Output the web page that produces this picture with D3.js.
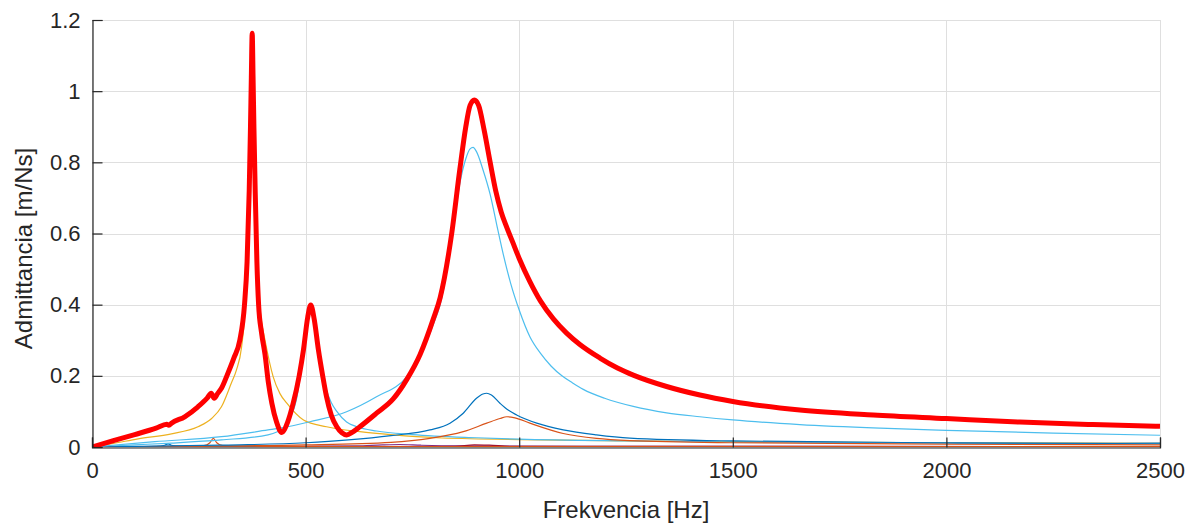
<!DOCTYPE html>
<html>
<head>
<meta charset="utf-8">
<script src="https://cdnjs.cloudflare.com/ajax/libs/d3/7.8.5/d3.min.js"></script>
<style>
  body { margin: 0; background: #fff; }
  svg { display: block; }
  text { font-family: "Liberation Sans", Arial, sans-serif; fill: #262626; }
</style>
</head>
<body>
<svg id="chart" width="1192" height="525"></svg>
<script>
// Axis ticks
const xTicks = [0, 500, 1000, 1500, 2000, 2500];
const yTicks = [0, 0.2, 0.4, 0.6, 0.8, 1, 1.2];
const xTickLabels = ["0", "500", "1000", "1500", "2000", "2500"];
const yTickLabels = ["0", "0.2", "0.4", "0.6", "0.8", "1", "1.2"];

// Total admittance [Hz, m/Ns]
const total = [[0,0],[50,0.018],[100,0.035],[150,0.053],[175,0.064],[180,0.061],[186,0.067],[217,0.085],[248,0.113],[270,0.138],[279,0.151],[286,0.137],[294,0.150],[303,0.165],[318,0.207],[332,0.25],[346,0.30],[357,0.40],[363,0.52],[368,0.72],[371,0.90],[373,1.04],[375,1.163],[377,1.04],[379,0.90],[382,0.72],[386,0.52],[390,0.40],[397,0.32],[405,0.26],[413,0.18],[421,0.123],[432,0.07],[444,0.041],[458,0.07],[471,0.123],[485,0.20],[495,0.273],[505,0.365],[512,0.399],[520,0.36],[530,0.273],[540,0.20],[549,0.141],[560,0.09],[573,0.057],[585,0.040],[596,0.034],[610,0.042],[627,0.057],[666,0.095],[705,0.135],[737,0.19],[768,0.26],[799,0.36],[815,0.42],[842,0.60],[861,0.78],[875,0.90],[885,0.96],[895,0.975],[905,0.96],[918,0.89],[932,0.80],[945,0.72],[958,0.66],[970,0.62],[985,0.575],[1000,0.53],[1025,0.465],[1050,0.41],[1080,0.36],[1111,0.32],[1142,0.288],[1189,0.25],[1230,0.222],[1267,0.202],[1345,0.17],[1423,0.146],[1500,0.128],[1657,0.104],[1829,0.090],[2000,0.080],[2172,0.070],[2343,0.063],[2500,0.058]];

// Modal contributions
const mode178 = [[0,0],[150,0.002],[170,0.005],[178,0.009],[186,0.005],[206,0.002],[400,0.001],[2500,0.0005]];
const mode284 = [[0,0],[200,0.002],[262,0.004],[276,0.012],[284,0.024],[292,0.012],[306,0.004],[400,0.002],[800,0.001],[2500,0.001]];
const mode375 = [[0,0],[50,0.01],[108,0.023],[186,0.037],[248,0.057],[280,0.08],[303,0.113],[326,0.179],[338,0.216],[350,0.28],[360,0.42],[366,0.62],[370,0.86],[373,1.03],[375,1.12],[377,1.03],[380,0.86],[384,0.62],[389,0.45],[396,0.36],[405,0.30],[424,0.198],[440,0.15],[456,0.123],[495,0.076],[549,0.057],[627,0.043],[705,0.034],[807,0.026],[1000,0.021],[1250,0.017],[1500,0.015],[2000,0.012],[2500,0.010]];
const mode700 = [[0,0],[300,0.001],[500,0.002],[620,0.003],[680,0.006],[720,0.007],[770,0.005],[850,0.003],[1200,0.002],[2500,0.001]];
const mode513 = [[0,0],[100,0.006],[186,0.011],[303,0.02],[412,0.034],[450,0.055],[465,0.085],[478,0.13],[490,0.22],[498,0.29],[505,0.35],[512,0.39],[520,0.355],[530,0.27],[540,0.205],[549,0.16],[560,0.125],[573,0.10],[596,0.07],[620,0.057],[666,0.045],[750,0.035],[900,0.026],[1000,0.022],[1250,0.017],[1500,0.014],[2000,0.011],[2500,0.009]];
const mode890 = [[0,0],[147,0.015],[303,0.029],[412,0.048],[440,0.053],[510,0.071],[596,0.099],[666,0.141],[737,0.198],[768,0.255],[799,0.345],[815,0.40],[842,0.58],[861,0.74],[875,0.81],[885,0.838],[892,0.842],[900,0.83],[915,0.78],[932,0.71],[950,0.61],[963,0.54],[980,0.46],[1000,0.385],[1025,0.31],[1050,0.263],[1075,0.227],[1100,0.20],[1125,0.18],[1150,0.162],[1200,0.137],[1267,0.114],[1345,0.096],[1423,0.085],[1500,0.076],[1657,0.063],[1845,0.053],[2000,0.047],[2250,0.039],[2500,0.033]];
const mode905 = [[0,0],[600,0.001],[850,0.002],[895,0.006],[930,0.005],[980,0.002],[2500,0.001]];
const mode920 = [[0,0],[300,0.005],[500,0.012],[600,0.02],[700,0.032],[791,0.048],[838,0.067],[869,0.095],[900,0.137],[915,0.149],[924,0.151],[935,0.146],[955,0.123],[975,0.103],[994,0.09],[1041,0.067],[1103,0.048],[1181,0.034],[1259,0.025],[1500,0.017],[2000,0.012],[2400,0.010],[2500,0.011]];
const mode975 = [[0,0],[500,0.006],[700,0.013],[791,0.024],[869,0.043],[924,0.067],[955,0.08],[971,0.085],[990,0.082],[1025,0.067],[1103,0.038],[1181,0.024],[1259,0.018],[1500,0.012],[2000,0.008],[2500,0.006]];

const svg = d3.select("#chart");
const W = 1192, H = 525;
const plotL = 92, plotR = 1160, plotT = 20, plotB = 447;

const x = d3.scaleLinear().domain([0, 2500]).range([plotL, plotR]);
const y = d3.scaleLinear().domain([0, 1.2]).range([plotB, plotT]);

svg.append("rect").attr("width", W).attr("height", H).attr("fill", "#fff");

// grid
const grid = svg.append("g").attr("stroke", "#dfdfdf").attr("stroke-width", 1);
xTicks.forEach(t => grid.append("line")
  .attr("x1", Math.round(x(t)) + 0.5).attr("x2", Math.round(x(t)) + 0.5)
  .attr("y1", plotT).attr("y2", plotB));
yTicks.forEach(t => grid.append("line")
  .attr("x1", plotL).attr("x2", plotR)
  .attr("y1", Math.round(y(t)) + 0.5).attr("y2", Math.round(y(t)) + 0.5));

svg.append("clipPath").attr("id", "plotArea")
  .append("rect").attr("x", plotL).attr("y", plotT - 5).attr("width", plotR - plotL).attr("height", plotB - plotT + 5);

const line = d3.line()
  .x(d => x(d[0]))
  .y(d => y(d[1]))
  .curve(d3.curveMonotoneX);

const modes = [
  { data: mode700, color: "#7E2F8E" },
  { data: mode905, color: "#A2142F" },
  { data: mode178, color: "#0072BD" },
  { data: mode284, color: "#D95319" },
  { data: mode375, color: "#EDB120" },
  { data: mode513, color: "#4DBEEE" },
  { data: mode975, color: "#D95319" },
  { data: mode920, color: "#0072BD" },
  { data: mode890, color: "#4DBEEE" }
];

const plot = svg.append("g").attr("clip-path", "url(#plotArea)");
modes.forEach(m => plot.append("path")
  .datum(m.data)
  .attr("fill", "none")
  .attr("stroke", m.color)
  .attr("stroke-width", 1.2)
  .attr("d", line));

plot.append("path")
  .datum(total)
  .attr("fill", "none")
  .attr("stroke", "#FF0000")
  .attr("stroke-width", 5)
  .attr("stroke-linejoin", "round")
  .attr("d", line);

// axes (left and bottom, ticks pointing inward)
const axisColor = "#262626";
const xAxis = d3.axisBottom(x).tickValues(xTicks).tickSize(-10).tickFormat((d, i) => xTickLabels[i]).tickPadding(12);
const yAxis = d3.axisLeft(y).tickValues(yTicks).tickSize(-10).tickFormat((d, i) => yTickLabels[i]).tickPadding(12);

const gx = svg.append("g").attr("transform", `translate(0,${plotB + 0.5})`).call(xAxis);
const gy = svg.append("g").attr("transform", `translate(${plotL + 0.5},0)`).call(yAxis);
[gx, gy].forEach(g => {
  g.select(".domain").attr("stroke", axisColor).attr("stroke-width", 1.2);
  g.selectAll(".tick line").attr("stroke", axisColor).attr("stroke-width", 1.2);
  g.selectAll(".tick text").attr("fill", axisColor).style("font-size", "22px")
    .style("font-family", "'Liberation Sans', Arial, sans-serif");
});
gx.selectAll(".tick text").attr("dy", "0.85em");

svg.append("text")
  .attr("x", (plotL + plotR) / 2).attr("y", 518)
  .attr("text-anchor", "middle")
  .style("font-size", "24px")
  .text("Frekvencia [Hz]");

svg.append("text")
  .attr("transform", `translate(32,${(plotT + plotB) / 2 + 15}) rotate(-90)`)
  .attr("text-anchor", "middle")
  .style("font-size", "24px")
  .text("Admittancia [m/Ns]");
</script>
</body>
</html>
